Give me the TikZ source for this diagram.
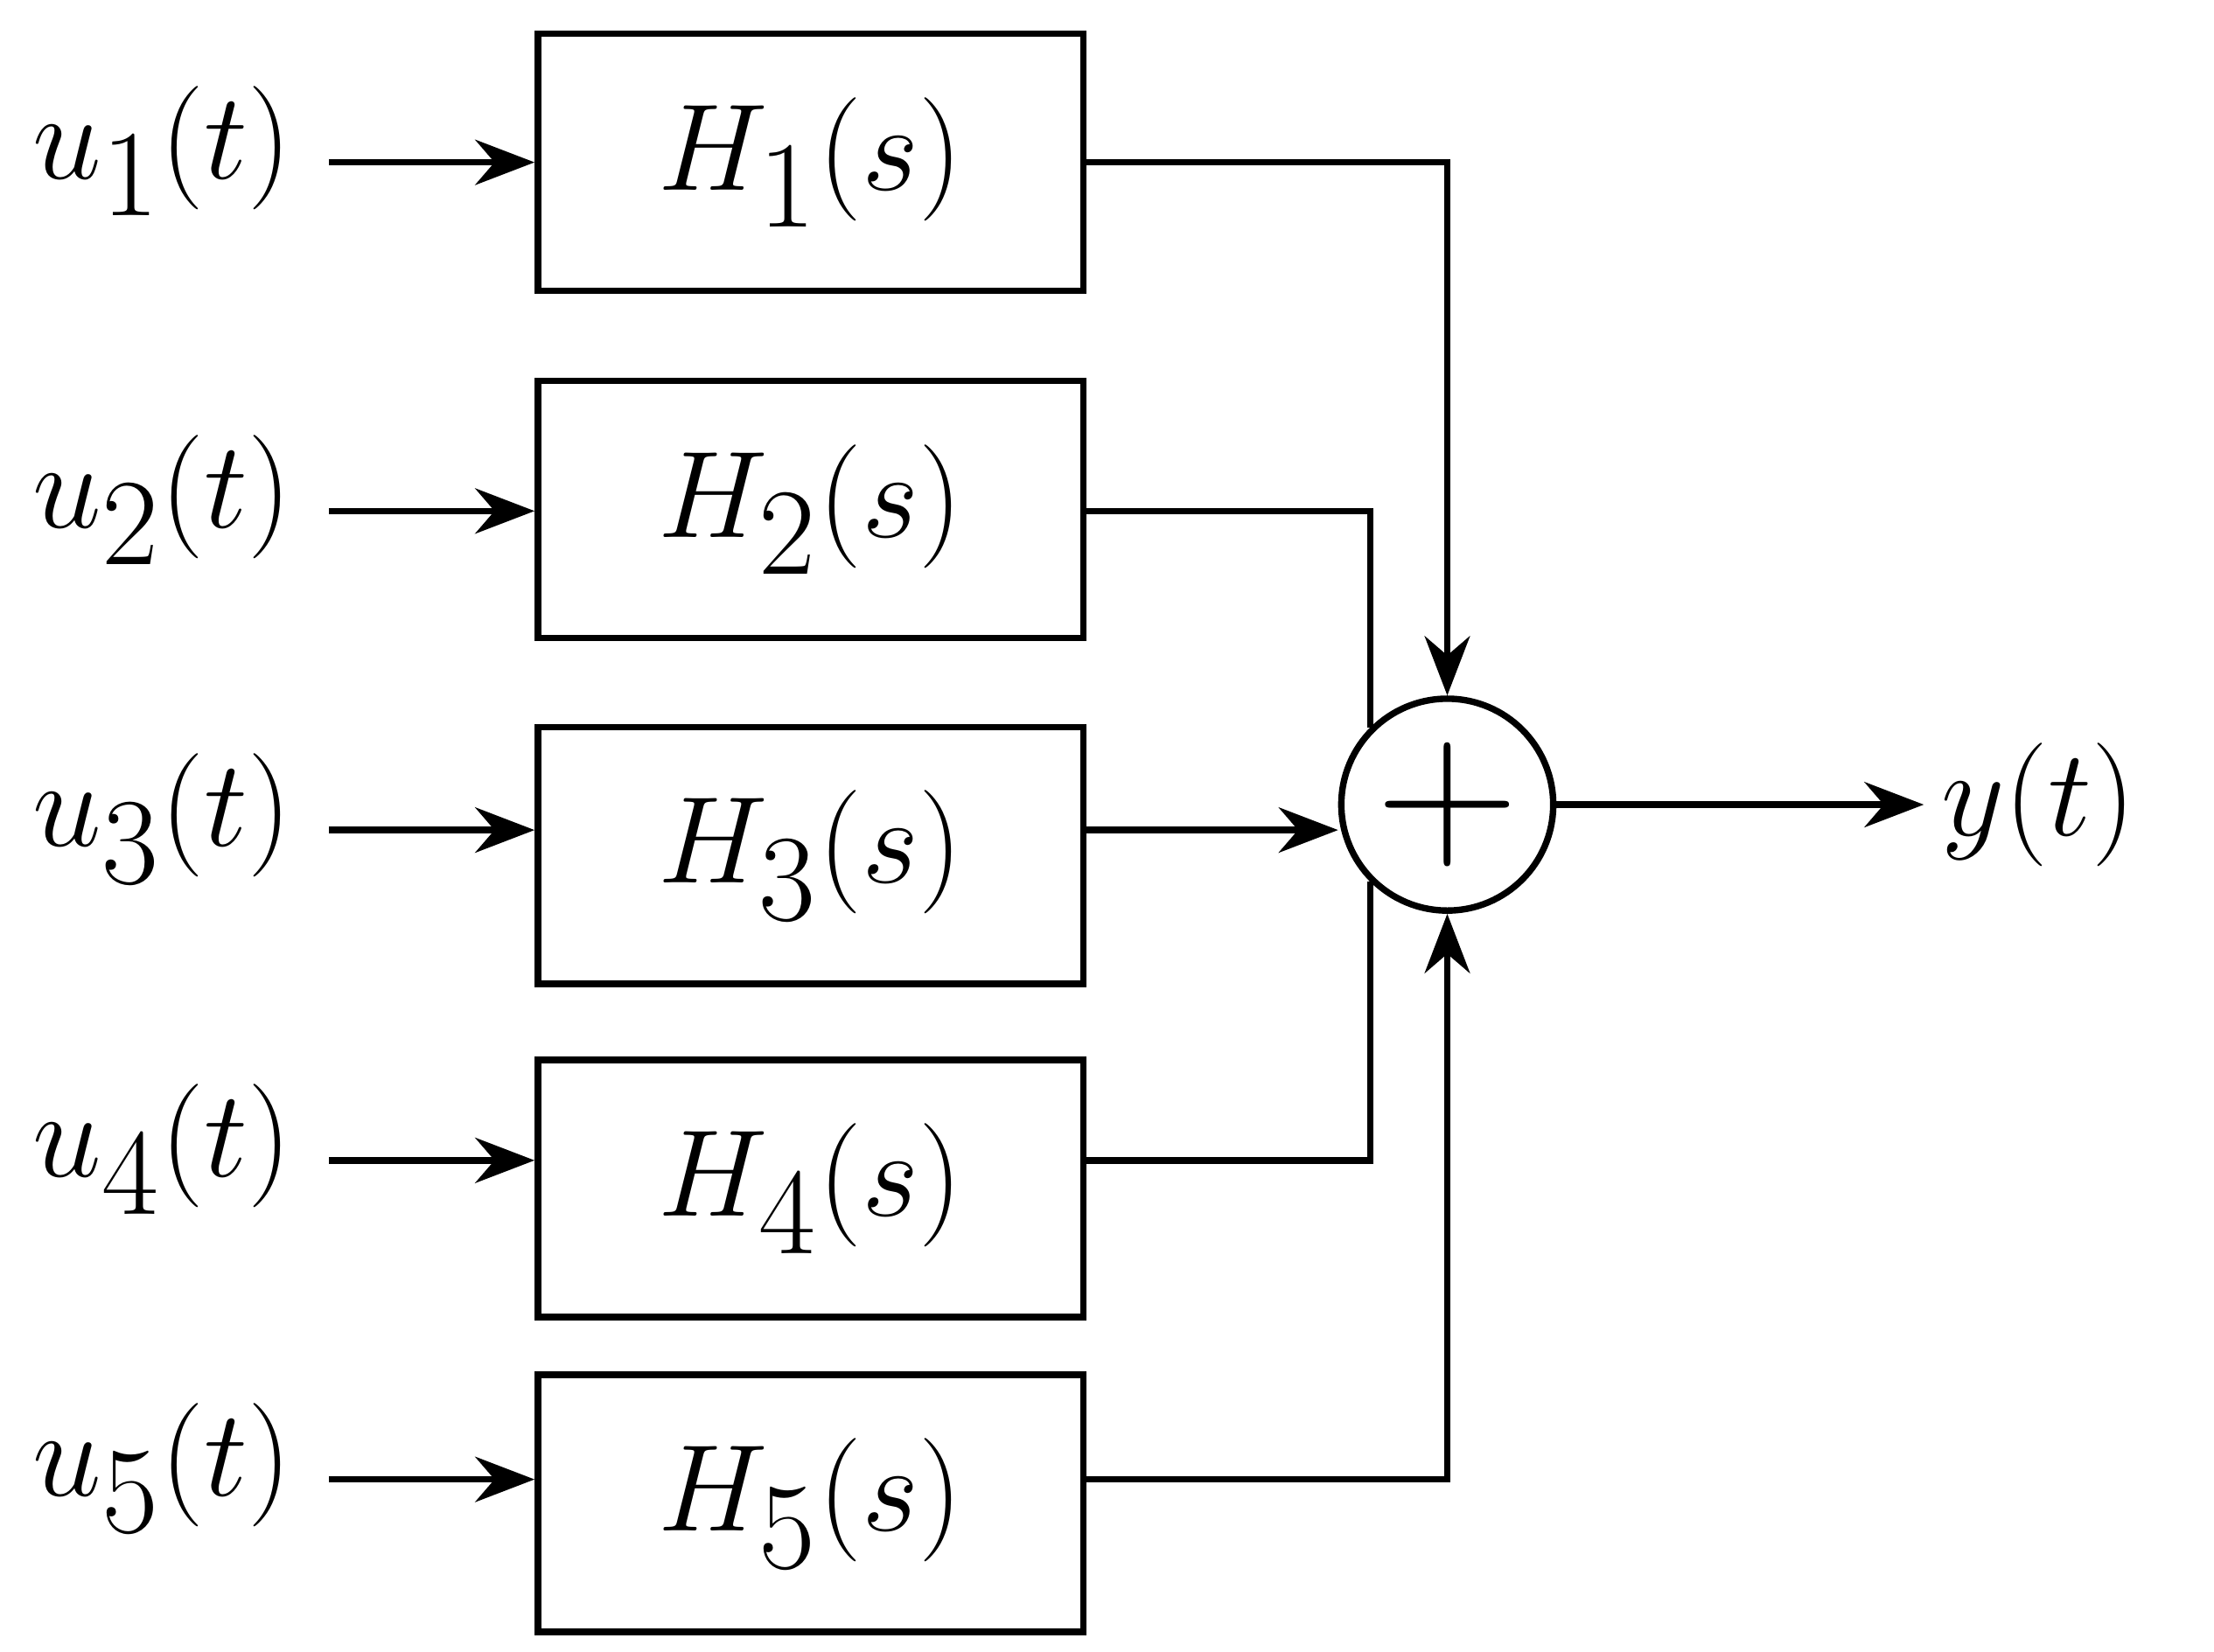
\documentclass[tikz,border=0pt]{standalone}
\usetikzlibrary{positioning,arrows.meta}
\tikzstyle{bloc}=[rectangle,draw,line width=1.3pt,minimum width=3.86cm,minimum height=1.82cm]
\tikzstyle{somme}=[draw,circle,line width=1.3pt,minimum size=1.5cm,inner sep=0pt]
\tikzstyle{fleche}=[line width=1.3pt,-{Stealth[length=0.42cm,width=0.32cm]}]
\tikzstyle{ligne}=[line width=1.3pt]

\begin{document}
\begin{tikzpicture}[x=0.01cm,y=-0.01cm,font=\fontsize{33}{38}\selectfont]
\useasboundingbox (0,0) rectangle (1568,1170);

\foreach \i/\y/\h in {1/115/115,2/362/361,3/588/606,4/822/842,5/1048/1065}{
  \node[bloc] (H\i) at (574,\h) {$H_{\i}(s)$};
  \node (u\i) at (115,\y-8) {$u_{\i}(t)$};
  \coordinate (in\i) at (233,\y);
  \coordinate (out\i) at (767,\y);
  \draw[fleche] (in\i) -- (in\i -| H\i.west);
}
\node[somme] (S) at (1025,570) {\scalebox{1.6}{$+$}};
\node (Y) [right = 2.6cm of S] {$y(t)$};

\draw[fleche] (out1) -| (S.north);
\draw[ligne] (out2) -| (S.north west);
\draw[fleche] (out3) -- (S.west |- out3);
\draw[ligne] (out4) -| (S.south west);
\draw[fleche] (out5) -| (S.south);
\draw[fleche] (S.east) -- (Y.west);

\end{tikzpicture}
\end{document}
